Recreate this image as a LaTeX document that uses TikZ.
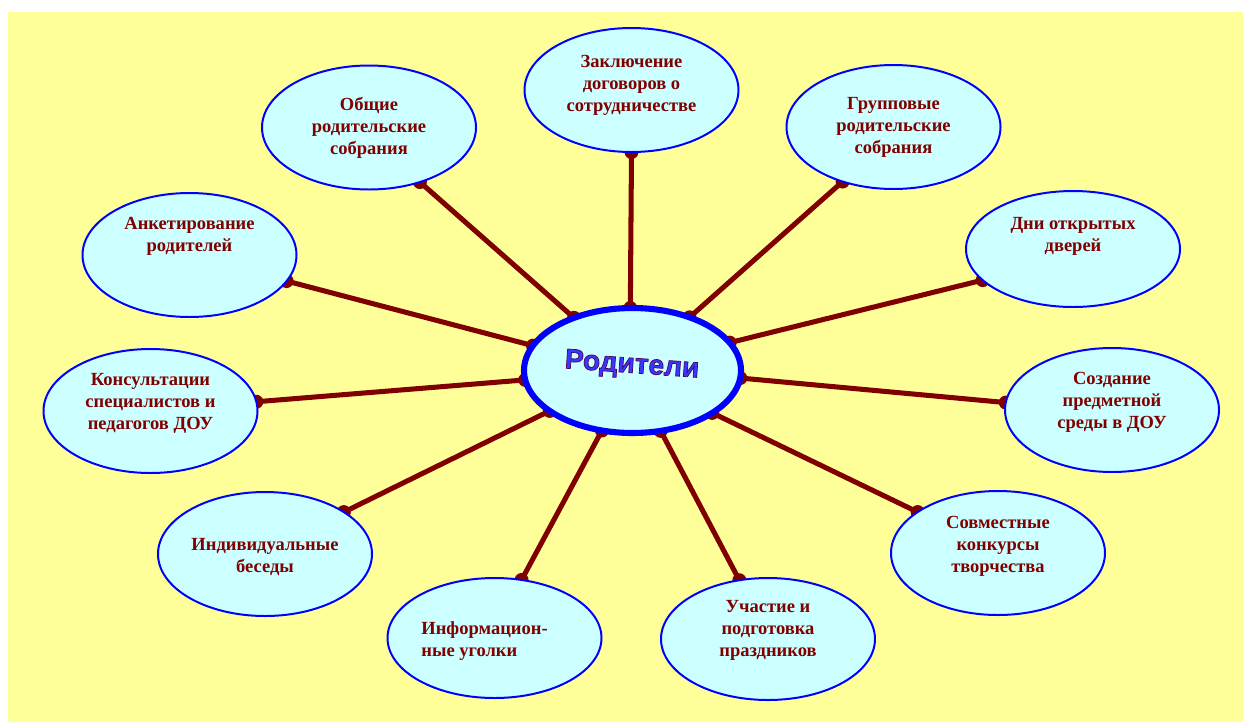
\documentclass[tikz,border=0pt]{standalone}
\usepackage{fontspec}
\setmainfont{Liberation Serif}
\newfontfamily\headfont{Liberation Sans}
\usetikzlibrary{shapes.geometric}
\definecolor{bgyellow}{HTML}{FFFF99}
\definecolor{bubblefill}{HTML}{CCFFFF}
\definecolor{rim}{HTML}{0000FF}
\definecolor{linkred}{HTML}{800000}
\definecolor{headblue}{HTML}{3838FF}
\pgfdeclarelayer{bg}
\pgfdeclarelayer{links}
\pgfsetlayers{bg,links,main}
\tikzset{
  bubble/.style={ellipse, draw=rim, fill=bubblefill, line width=1.7pt, outer sep=0pt,
    minimum width=214*0.03cm, minimum height=124*0.03cm},
  lab/.style={font=\bfseries\fontsize{15.8}{18.8}\selectfont, text=linkred, align=center, inner sep=0pt},
  conn/.style={draw=linkred, line width=4.3pt},
  hub/.style={ellipse, draw=rim, fill=bubblefill, line width=5.2pt, outer sep=0pt,
    minimum width=217*0.03cm, minimum height=125*0.03cm},
}
\begin{document}
\begin{tikzpicture}[x=0.03cm, y=-0.03cm]
\useasboundingbox (0,0) rectangle (1243,722);
\begin{pgfonlayer}{bg}
\fill[bgyellow] (8,12) rectangle (1243,722);
\end{pgfonlayer}

\node[hub] (c) at (632.5,370.5) {};
\node[rotate=-4, text=headblue, font=\headfont\bfseries\fontsize{24}{28}\selectfont, inner sep=0pt] (ctext) at (632,366)
  {\special{pdf:literal direct 2 Tr 0.6 w 0.3 0 0.35 RG}Родители\special{pdf:literal direct 0 Tr}};

\node[bubble, label={[lab, yshift=4.3pt]center:{Заключение\\договоров о\\сотрудничестве}}] (zakl) at (631.5,90) {};
\node[bubble, label={[lab]center:{Общие\\родительские\\собрания}}] (obsh) at (369,127.5) {};
\node[bubble, label={[lab]center:{Групповые\\родительские\\собрания}}] (grup) at (893.5,127) {};
\node[bubble, minimum height=116*0.03cm, label={[lab, yshift=11pt]center:{Дни открытых\\дверей}}] (dni) at (1073,249) {};
\node[bubble, label={[lab, yshift=16pt]center:{Анкетирование\\родителей}}] (anket) at (189.5,255) {};
\node[bubble, label={[lab, yshift=6.8pt]center:{Консультации\\специалистов и\\педагогов ДОУ}}] (kons) at (150.5,411) {};
\node[bubble, label={[lab, yshift=6.8pt]center:{Создание\\предметной\\среды в ДОУ}}] (sozd) at (1112,410) {};
\node[bubble, label={[lab, yshift=6pt]center:{Совместные\\конкурсы\\творчества}}] (sovm) at (998,553) {};
\node[bubble, label={[lab, yshift=-2.5pt]center:{Индивидуальные\\беседы}}] (indiv) at (265,554) {};
\node[bubble, minimum height=120*0.03cm, label={[lab, align=left, yshift=-2.5pt, xshift=-8.5pt]center:{Информацион-\\ные уголки}}] (info) at (494.5,638) {};
\node[bubble, minimum height=122*0.03cm, label={[lab, yshift=7.7pt]center:{Участие и\\подготовка\\праздников}}] (uchast) at (768,639) {};

\begin{pgfonlayer}{links}
\foreach \a/\n/\b in {92/zakl/270, 138/obsh/313, 43/grup/227, 16/dni/199, 166/anket/345,
  185/kons/5, 356/sozd/176, 206/indiv/28, 332/sovm/153, 243/info/65, 295/uchast/116} {
  \draw[conn] (c.\a) -- (\n.\b);
  \fill[linkred] (c.\a) circle[radius=0.21cm] (\n.\b) circle[radius=0.21cm];
}
\end{pgfonlayer}
\end{tikzpicture}
\end{document}
